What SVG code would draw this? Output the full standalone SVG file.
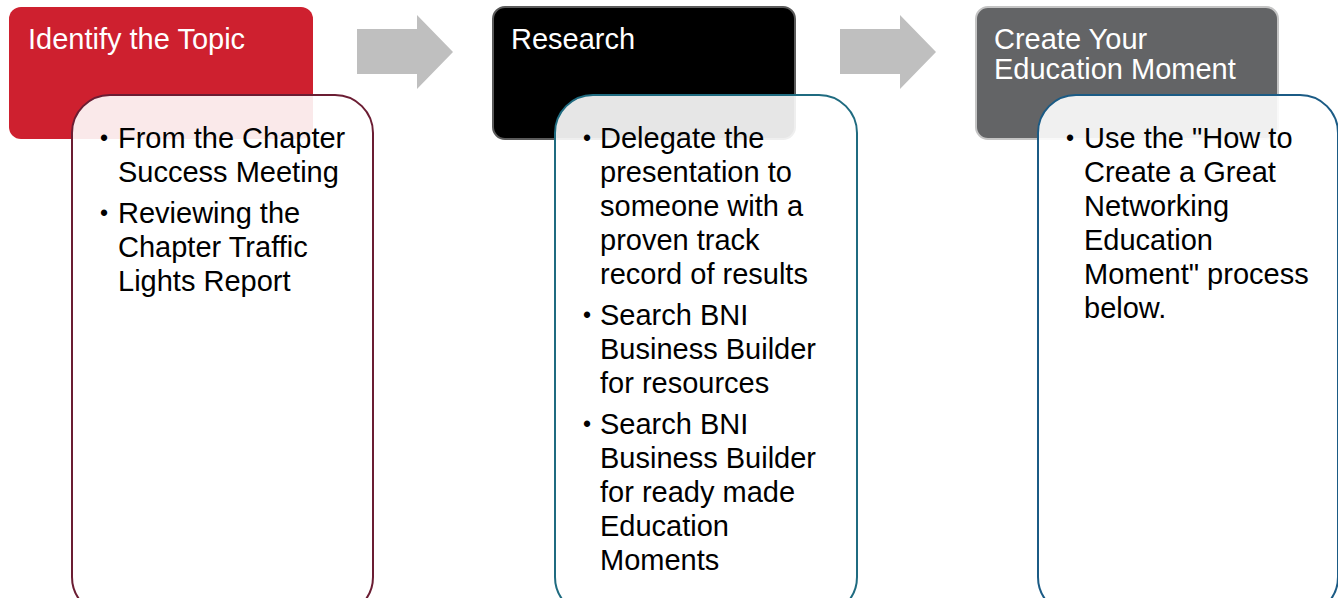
<svg xmlns="http://www.w3.org/2000/svg" width="1338" height="598" viewBox="0 0 1338 598">
  <defs>
    <style>
      .hdr-text { font-family: "Liberation Sans", Arial, sans-serif; font-size: 29px; fill: #ffffff; }
      .body-text { font-family: "Liberation Sans", Arial, sans-serif; font-size: 29px; fill: #000000; }
      .bullet { font-size: 23px; }
      .card { fill: #ffffff; fill-opacity: 0.9; stroke-width: 2; }
      .arrow { fill: #BFBFBF; }
    </style>
  </defs>
  <rect width="1338" height="598" fill="#ffffff"/>

  <g id="connectors">
    <polygon class="arrow" points="357,29 417,29 417,15 453,52 417,89 417,74 357,74"/>
    <polygon class="arrow" points="840,29 900,29 900,15 936,52 900,89 900,74 840,74"/>
  </g>

  <g id="node-identify">
    <rect x="9" y="7" width="304" height="132" rx="12" fill="#CE202F"/>
    <text class="hdr-text" x="28" y="49">Identify the Topic</text>
  </g>
  <g id="card-identify">
    <rect class="card" x="72" y="95" width="301" height="520" rx="38" stroke="#6B1D33"/>
    <text class="body-text">
      <tspan class="bullet" x="100" y="146">•</tspan><tspan x="118" y="148">From the Chapter</tspan>
      <tspan x="118" y="182">Success Meeting</tspan>
      <tspan class="bullet" x="100" y="221">•</tspan><tspan x="118" y="223">Reviewing the</tspan>
      <tspan x="118" y="257">Chapter Traffic</tspan>
      <tspan x="118" y="291">Lights Report</tspan>
    </text>
  </g>

  <g id="node-research">
    <rect x="493" y="7" width="302" height="132" rx="12" fill="#000000" stroke="#5A5A5A" stroke-width="2"/>
    <text class="hdr-text" x="511" y="49">Research</text>
  </g>
  <g id="card-research">
    <rect class="card" x="555" y="95" width="302" height="520" rx="38" stroke="#1F6B80"/>
    <text class="body-text">
      <tspan class="bullet" x="583" y="146">•</tspan><tspan x="600" y="148">Delegate the</tspan>
      <tspan x="600" y="182">presentation to</tspan>
      <tspan x="600" y="216">someone with a</tspan>
      <tspan x="600" y="250">proven track</tspan>
      <tspan x="600" y="284">record of results</tspan>
      <tspan class="bullet" x="583" y="323">•</tspan><tspan x="600" y="325">Search BNI</tspan>
      <tspan x="600" y="359">Business Builder</tspan>
      <tspan x="600" y="393">for resources</tspan>
      <tspan class="bullet" x="583" y="432">•</tspan><tspan x="600" y="434">Search BNI</tspan>
      <tspan x="600" y="468">Business Builder</tspan>
      <tspan x="600" y="502">for ready made</tspan>
      <tspan x="600" y="536">Education</tspan>
      <tspan x="600" y="570">Moments</tspan>
    </text>
  </g>

  <g id="node-create">
    <rect x="976" y="7" width="302" height="132" rx="12" fill="#636466" stroke="#C4C4C4" stroke-width="2"/>
    <text class="hdr-text">
      <tspan x="994" y="49">Create Your</tspan>
      <tspan x="994" y="79">Education Moment</tspan>
    </text>
  </g>
  <g id="card-create">
    <rect class="card" x="1038" y="95" width="300" height="520" rx="38" stroke="#1B5B85"/>
    <text class="body-text">
      <tspan class="bullet" x="1066" y="146">•</tspan><tspan x="1084" y="148">Use the "How to</tspan>
      <tspan x="1084" y="182">Create a Great</tspan>
      <tspan x="1084" y="216">Networking</tspan>
      <tspan x="1084" y="250">Education</tspan>
      <tspan x="1084" y="284">Moment" process</tspan>
      <tspan x="1084" y="318">below.</tspan>
    </text>
  </g>
</svg>
